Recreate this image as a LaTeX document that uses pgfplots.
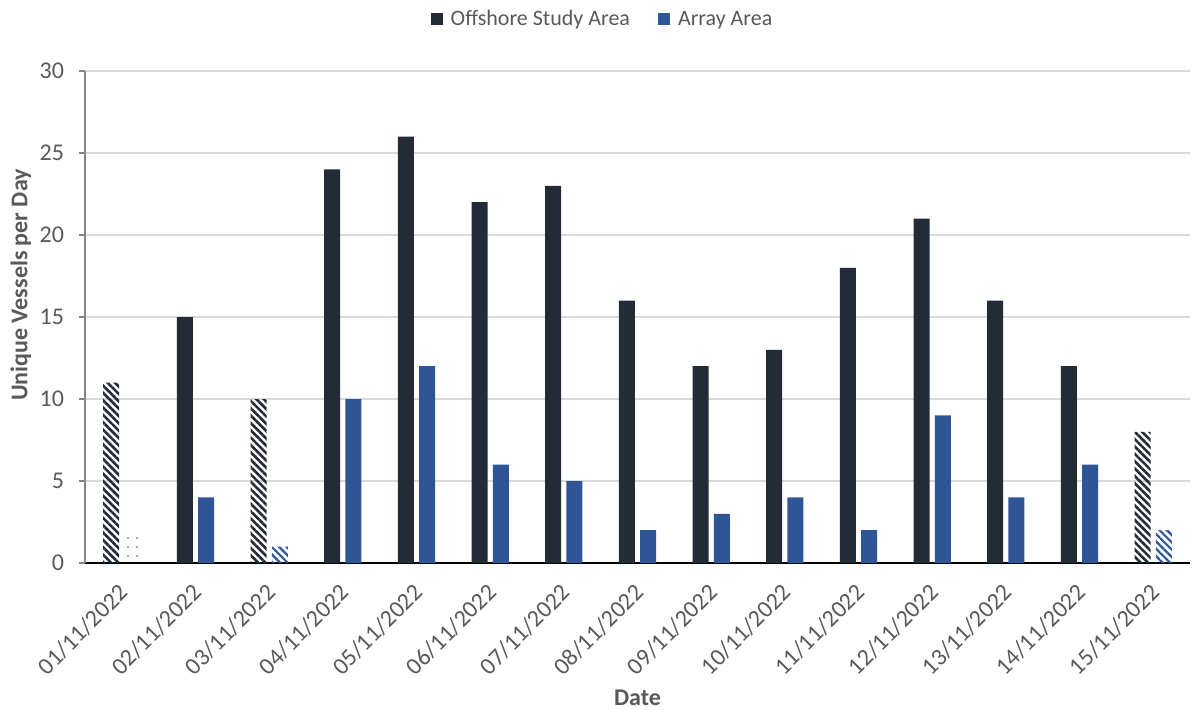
\documentclass[border=0pt]{standalone}
\usepackage{pgfplots}
\pgfplotsset{compat=1.18}
\usepackage{fontspec}
\setmainfont{Carlito}
\usetikzlibrary{patterns.meta}
\definecolor{darkc}{HTML}{232B36}
\definecolor{bluec}{HTML}{2F5597}
\definecolor{txtc}{HTML}{595959}
\definecolor{gridc}{HTML}{D9D9D9}
\definecolor{axc}{HTML}{868686}
\begin{document}
\begin{tikzpicture}[x=1pt,y=1pt]
\useasboundingbox (-42.5,-73) rectangle (553.5,281.5);
\begin{axis}[
  scale only axis, width=552.5pt, height=246pt,
  at={(0,0)}, anchor=south west,
  xmin=0.5, xmax=15.5, ymin=0, ymax=30,
  ytick={0,5,...,30},
  xtick={1,...,15},
  xticklabels={01/11/2022,02/11/2022,03/11/2022,04/11/2022,05/11/2022,06/11/2022,07/11/2022,08/11/2022,09/11/2022,10/11/2022,11/11/2022,12/11/2022,13/11/2022,14/11/2022,15/11/2022},
  x tick label style={rotate=45, anchor=north east, inner sep=1pt, xshift=-5pt, yshift=-2pt},
  tick align=outside,
  extra x ticks={0.5,1.5,...,15.5}, extra x tick labels={},
  extra x tick style={major tick length=4.5pt, tick style={black, line width=0.8pt}, tickpos=left, grid=none},
  major x tick style={draw=none},
  major y tick style={axc, line width=0.6pt},
  ytick pos=left,
  major tick length=3pt,
  axis x line*=bottom, axis y line*=left,
  x axis line style={black, line width=0.8pt, -},
  y axis line style={axc, line width=0.6pt, -},
  ymajorgrids, grid style={gridc, line width=0.8pt},
  tick label style={font=\fontsize{12}{14}\selectfont, text=txtc},
  /pgf/number format/assume math mode=true,
  yticklabel style={xshift=-4pt},
  ylabel={\bfseries Unique Vessels per Day},
  xlabel={\bfseries Date},
  label style={font=\fontsize{12}{14}\selectfont, text=txtc},
  ylabel style={at={(axis description cs:-0.058,0.565)}, anchor=center},
  xlabel style={at={(axis description cs:0.5,0)}, anchor=center, yshift=-67.5pt},
  legend style={at={(0.5,1)}, anchor=south, yshift=17pt, xshift=-17pt, draw=none, fill=none,
    legend columns=2, font=\fontsize{11}{13}\selectfont, text=txtc,
    /tikz/every odd column/.append style={column sep=2pt},
    /tikz/every even column/.append style={column sep=12pt}},
  ybar, bar width=8pt,
  clip=false,
]
\addplot[fill=darkc, draw=none, bar shift=-5.3pt,
  legend image code/.code={\fill[darkc] (0pt,-3pt) rectangle (6pt,3pt);}] coordinates {
 (2,15) (4,24) (5,26) (6,22) (7,23) (8,16) (9,12) (10,13) (11,18) (12,21) (13,16) (14,12)};
\addlegendentry{Offshore Study Area}
\addplot[fill=bluec, draw=none, bar shift=5.3pt,
  legend image code/.code={\fill[bluec] (0pt,-3pt) rectangle (6pt,3pt);}] coordinates {
 (2,4) (4,10) (5,12) (6,6) (7,5) (8,2) (9,3) (10,4) (11,2) (12,9) (13,4) (14,6)};
\addlegendentry{Array Area}
\addplot[forget plot, draw=none, bar shift=-5.3pt, pattern={Lines[angle=-45,distance=2.6pt,line width=1.3pt]}, pattern color=darkc] coordinates {(1,11) (3,10) (15,8)};
\addplot[forget plot, draw=none, bar shift=5.3pt, pattern={Lines[angle=-45,distance=2.6pt,line width=1.1pt]}, pattern color=bluec] coordinates {(3,1) (15,2)};
\addplot[forget plot, draw=none, bar shift=5.3pt, pattern={Dots[distance=4.5pt,radius=0.45pt,xshift=1pt]}, pattern color=bluec] coordinates {(1,2)};
\end{axis}
\end{tikzpicture}
\end{document}
